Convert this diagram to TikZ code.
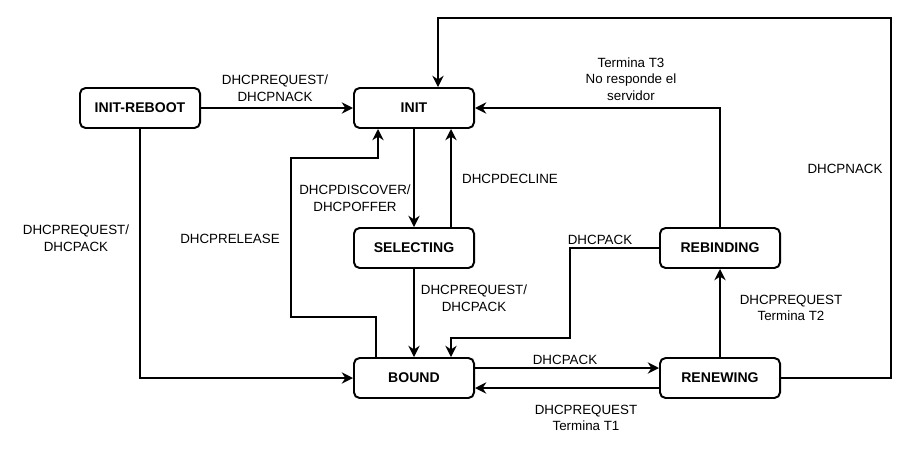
\documentclass[tikz,border=0pt]{standalone}
\usepackage{fontspec}
\setmainfont{Liberation Sans}
\usetikzlibrary{arrows.meta,calc}

\begin{document}
\begin{tikzpicture}[x=0.025cm,y=-0.025cm]
        \useasboundingbox (0,0) rectangle (910,449);
        \begin{scope}[every node/.style={draw, line width=1.4pt, rounded corners=4pt, minimum width=3cm, minimum height=1cm, inner sep=1, font=\fontsize{10}{12}\selectfont\bfseries}]
                \node (reboot) at (140,108) {INIT-REBOOT};
                \node (init) at (414,108) {INIT};
                \node (selecting) at (414,248) {SELECTING};
                \node (bound) at (414,378) {BOUND};
                \node (rebinding) at (720,248) {REBINDING};
                \node (renewing) at (720,378) {RENEWING};
        \end{scope}
        \begin{scope}[every node/.style={align=center, inner sep=1, font=\fontsize{9.5}{11.7}\selectfont}]
                \node (lRebootNack) at (275,88) {DHCPREQUEST/\\DHCPNACK};
                \node (lRebootAck) at (76,238) {DHCPREQUEST/\\DHCPACK};
                \node (lRelease) at (230,239) {DHCPRELEASE};
                \node (lDiscover) at (355,198) {DHCPDISCOVER/\\DHCPOFFER};
                \node (lDecline) at (510,179) {DHCPDECLINE};
                \node (lSelAck) at (474,298) {DHCPREQUEST/\\DHCPACK};
                \node (lRebAck) at (600,240) {DHCPACK};
                \node (lBoundAck) at (565,360) {DHCPACK};
                \node (lT1) at (586,418) {DHCPREQUEST\\Termina T1};
                \node (lT2) at (791,308) {DHCPREQUEST\\Termina T2};
                \node (lT3) at (631,79) {Termina T3\\No responde el\\servidor};
                \node (lNack) at (845,169) {DHCPNACK};
        \end{scope}
        \coordinate (relCorner) at (291,158);
        \coordinate (ackCorner) at (570,338);
        \coordinate (nackCorner) at (891,18);
        \begin{scope}[every path/.style={line width=1.4pt, -{Stealth[length=8pt,width=8pt]}}]
                \path (reboot) edge (init);
                \path (init) edge (selecting);
                \path (selecting) edge (bound);
                \path (renewing) edge (rebinding);
                \draw (reboot.south) |- (bound.west);
                \draw ($(selecting.north)+(37,0)$) -- ($(init.south)+(37,0)$);
                \draw ($(bound.north)+(-38,0)$) -- ++(0,-40) -| (relCorner) -| ($(init.south)+(-36,0)$);
                \draw ($(bound.east)+(0,-10)$) -- ($(renewing.west)+(0,-10)$);
                \draw ($(renewing.west)+(0,10)$) -- ($(bound.east)+(0,10)$);
                \draw (rebinding.west) -| (ackCorner) -| ($(bound.north)+(37,0)$);
                \draw (rebinding.north) |- (init.east);
                \draw (renewing.east) -| (nackCorner) -| ($(init.north)+(24,0)$);
        \end{scope}
\end{tikzpicture}
\end{document}
